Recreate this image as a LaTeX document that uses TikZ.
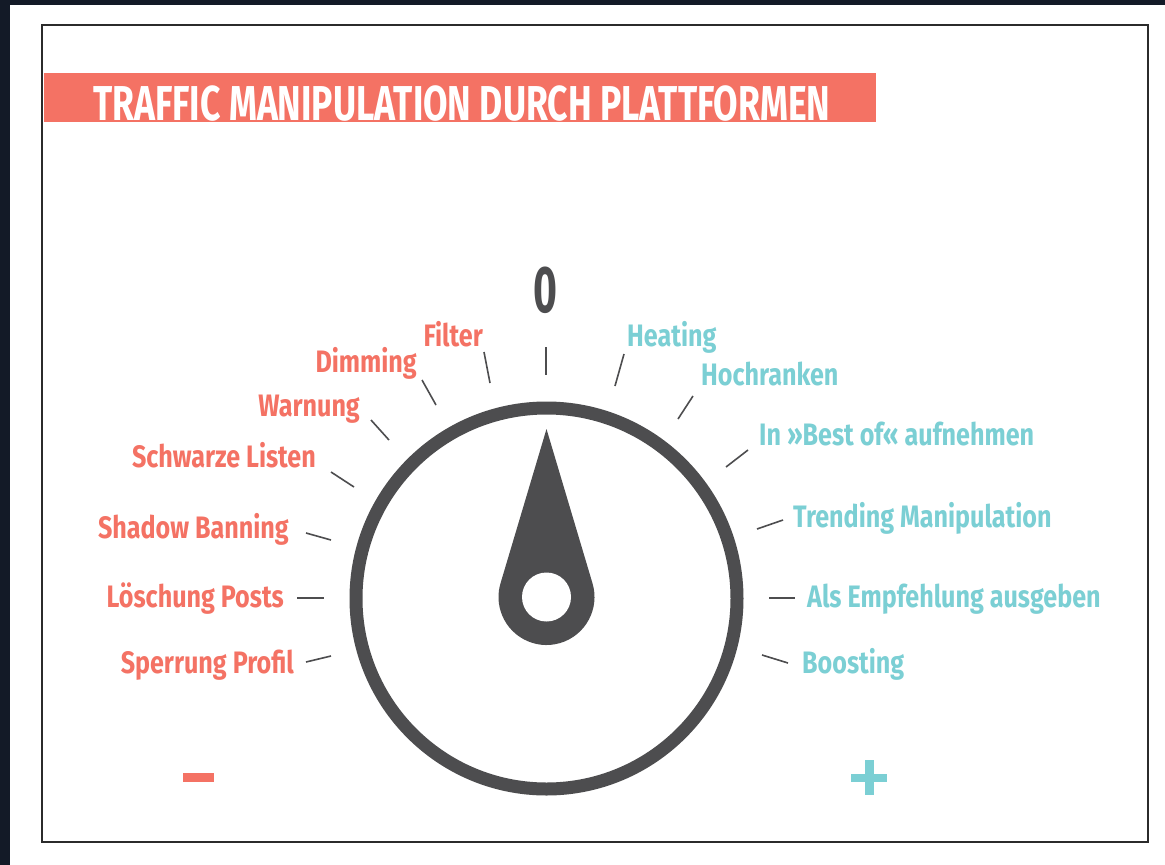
\documentclass[tikz,border=0pt]{standalone}
\usepackage{fontspec}
\newfontfamily\labfont[FakeStretch=0.81]{Fira Sans}
\newfontfamily\titlefont[FakeStretch=0.725]{Fira Sans}
\newfontfamily\zerofont[FakeStretch=0.62]{Fira Sans}
\definecolor{coral}{HTML}{F47264}
\definecolor{tealc}{HTML}{7BCFD4}
\definecolor{dialc}{HTML}{4D4D4F}
\definecolor{bgdark}{HTML}{131A27}
\definecolor{framec}{HTML}{2B2B2B}
\begin{document}
\begin{tikzpicture}[x=1pt,y=-1pt,
  labbase/.style={font=\labfont\bfseries\fontsize{31}{31}\selectfont, inner sep=0pt},
  neglab/.style={labbase, text=coral, anchor=base east},
  poslab/.style={labbase, text=tealc, anchor=base west},
  tickline/.style={draw=dialc, line width=1.6pt}]
\useasboundingbox (0,0) rectangle (1165,865);
\fill[bgdark] (0,0) rectangle (1165,865);
\fill[white] (10,5) rectangle (1165,865);
\draw[framec, line width=2pt] (42,25) rectangle (1148,842);
% title
\fill[coral] (44,73) rectangle (876,122);
\node[font=\titlefont\bfseries\fontsize{49}{49}\selectfont, text=white, inner sep=0pt, anchor=base west] (title) at (93,120) {TRAFFIC MANIPULATION DURCH PLATTFORMEN};
% zero
\node[font=\zerofont\bfseries\fontsize{66}{66}\selectfont, text=dialc, inner sep=0pt, anchor=base] (zero) at (545,312) {0};
% left labels
\node[neglab] (filter) at (483,346) {Filter};
\node[neglab] (dimming) at (417,372) {Dimming};
\node[neglab] (warnung) at (360,416) {Warnung};
\node[neglab] (schwarz) at (316,467) {Schwarze Listen};
\node[neglab] (shadow) at (289,538) {Shadow Banning};
\node[neglab] (loesch) at (284,607) {Löschung Posts};
\node[neglab] (sperr) at (294,673) {Sperrung Profil};
% right labels
\node[poslab] (heating) at (627,346) {Heating};
\node[poslab] (hoch) at (701,385) {Hochranken};
\node[poslab] (bestof) at (759,445) {In »Best of« aufnehmen};
\node[poslab] (trend) at (793,527) {Trending Manipulation};
\node[poslab] (empf) at (807,607) {Als Empfehlung ausgeben};
\node[poslab] (boost) at (802,673) {Boosting};
% ticks
\coordinate (t0a) at (546,347); \coordinate (t0b) at (546,375);
\coordinate (t1a) at (484,352); \coordinate (t1b) at (490,383);
\coordinate (t2a) at (422,380); \coordinate (t2b) at (436,405);
\coordinate (t3a) at (371,420); \coordinate (t3b) at (389,440);
\coordinate (t4a) at (331,472); \coordinate (t4b) at (354,487);
\coordinate (t5a) at (306,533); \coordinate (t5b) at (331,540);
\coordinate (t6a) at (297,598); \coordinate (t6b) at (324,598);
\coordinate (t7a) at (306,662); \coordinate (t7b) at (331,656);
\coordinate (u1a) at (624,354); \coordinate (u1b) at (615,386);
\coordinate (u2a) at (693,396); \coordinate (u2b) at (678,419);
\coordinate (u3a) at (748,450); \coordinate (u3b) at (726,467);
\coordinate (u4a) at (783,520); \coordinate (u4b) at (757,529);
\coordinate (u5a) at (769,598); \coordinate (u5b) at (795,598);
\coordinate (u6a) at (762,655); \coordinate (u6b) at (788,663);
\foreach \t in {t0,t1,t2,t3,t4,t5,t6,t7,u1,u2,u3,u4,u5,u6}
  \draw[tickline] (\t a) -- (\t b);
% dial
\draw[dialc, line width=13pt] (546.5,598.5) circle (190.5pt);
\fill[dialc] (546.5,429) -- (592.5,583.3) arc[start angle=16.6, end angle=-196.6, radius=48pt] -- cycle;
\fill[white] (546.5,597) circle (24.5pt);
% minus / plus
\fill[coral] (183,773) rectangle (214,782);
\fill[tealc] (851,773.5) rectangle (887,782);
\fill[tealc] (864.5,760) rectangle (873.5,795);
\end{tikzpicture}
\end{document}
